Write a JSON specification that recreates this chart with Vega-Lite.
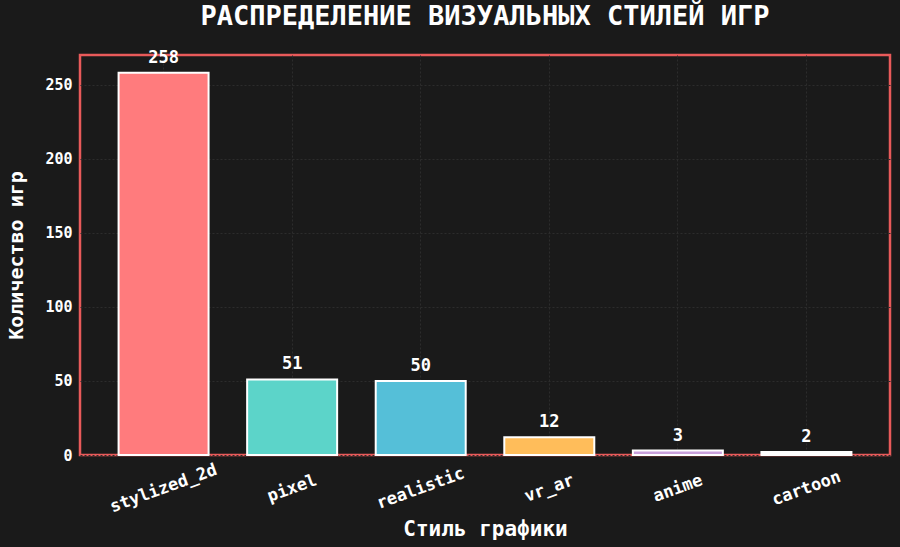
{
  "$schema": "https://vega.github.io/schema/vega-lite/v6.json",
  "autosize": {"type": "none"},
  "width": 810,
  "height": 400,
  "padding": {"left": 80, "top": 55, "right": 10, "bottom": 92},
  "background": "#1a1a1a",
  "title": {
    "text": "РАСПРЕДЕЛЕНИЕ ВИЗУАЛЬНЫХ СТИЛЕЙ ИГР",
    "font": "DejaVu Sans Mono",
    "fontWeight": "bold",
    "fontSize": 27,
    "color": "#ffffff",
    "anchor": "middle",
    "frame": "group",
    "baseline": "alphabetic",
    "offset": -3
  },
  "data": {
    "values": [
      {"style": "stylized_2d", "count": 258},
      {"style": "pixel", "count": 51},
      {"style": "realistic", "count": 50},
      {"style": "vr_ar", "count": 12},
      {"style": "anime", "count": 3},
      {"style": "cartoon", "count": 2}
    ]
  },
  "config": {
    "view": {"stroke": "#e85a5a", "strokeWidth": 2.5},
    "axis": {
      "labelFont": "DejaVu Sans Mono",
      "titleFont": "DejaVu Sans Mono",
      "labelColor": "#ffffff",
      "titleColor": "#ffffff",
      "labelFontWeight": "bold",
      "titleFontWeight": "bold",
      "domain": false,
      "ticks": false,
      "gridColor": "#2c2c2c",
      "gridDash": [2, 2],
      "gridWidth": 1
    }
  },
  "encoding": {
    "x": {
      "field": "style",
      "type": "nominal",
      "sort": null,
      "scale": {"paddingInner": 0.3, "paddingOuter": 0.3},
      "axis": {
        "title": "Стиль графики",
        "labelAngle": -20,
        "labelAlign": "center",
        "labelBaseline": "middle",
        "labelFontSize": 17,
        "labelPadding": 33,
        "titleFontSize": 21,
        "titlePadding": 4,
        "grid": true,
        "bandPosition": 0.5
      }
    },
    "y": {
      "field": "count",
      "type": "quantitative",
      "scale": {"domain": [0, 270], "nice": false},
      "axis": {
        "title": "Количество игр",
        "values": [0, 50, 100, 150, 200, 250],
        "labelFontSize": 15,
        "labelPadding": 8,
        "titleFontSize": 20,
        "titlePadding": 18,
        "grid": true
      }
    }
  },
  "layer": [
    {
      "mark": {"type": "bar", "stroke": "#ffffff", "strokeWidth": 2},
      "encoding": {
        "color": {
          "field": "style",
          "type": "nominal",
          "sort": null,
          "legend": null,
          "scale": {
            "domain": ["stylized_2d", "pixel", "realistic", "vr_ar", "anime", "cartoon"],
            "range": ["#ff7b7d", "#5cd4c9", "#55bfd8", "#ffbd5a", "#c9a0dc", "#ffffff"]
          }
        }
      }
    },
    {
      "mark": {
        "type": "text",
        "dy": -6,
        "color": "#ffffff",
        "font": "DejaVu Sans Mono",
        "fontWeight": "bold",
        "fontSize": 17,
        "baseline": "bottom"
      },
      "encoding": {
        "text": {"field": "count", "type": "quantitative"}
      }
    }
  ]
}
